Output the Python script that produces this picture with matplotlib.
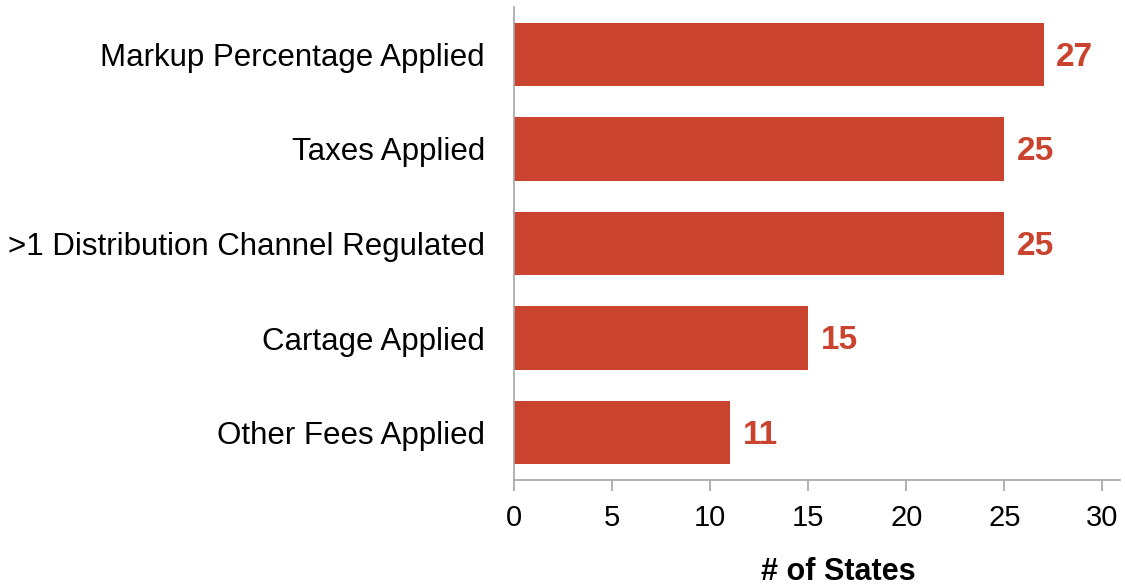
import matplotlib
matplotlib.use("Agg")
import matplotlib.pyplot as plt

categories = [
    "Markup Percentage Applied",
    "Taxes Applied",
    ">1 Distribution Channel Regulated",
    "Cartage Applied",
    "Other Fees Applied",
]
values = [27, 25, 25, 15, 11]
x_ticks = [0, 5, 10, 15, 20, 25, 30]

BAR = "#C9432F"
AXIS = "#A6A6A6"

plt.rcParams["font.family"] = ["Liberation Sans", "DejaVu Sans"]

fig = plt.figure(figsize=(11.25, 5.88), dpi=100)
ax = fig.add_axes([514 / 1125, 1 - 480 / 588, (1120 - 514) / 1125, (480 - 7) / 588])

ypos = list(range(len(categories)))
ax.barh(ypos, values, height=0.67, color=BAR, edgecolor="none")

for y, v in zip(ypos, values):
    ax.text(v + 0.65, y + 0.03, str(v), va="center", ha="left",
            fontsize=24, fontweight="bold", color=BAR)

ax.set_ylim(len(categories) - 0.5, -0.5)
ax.set_xlim(0, 30.9)
ax.set_yticks(ypos)
ax.set_yticklabels(categories, fontsize=22.5)
ax.set_xticks(x_ticks)
ax.set_xticklabels([str(t) for t in x_ticks], fontsize=21)

ax.tick_params(axis="y", length=0, pad=21)
ax.tick_params(axis="x", length=8, width=1.2, color=AXIS, direction="out", pad=9)

for side in ("top", "right"):
    ax.spines[side].set_visible(False)
for side in ("left", "bottom"):
    ax.spines[side].set_color(AXIS)
    ax.spines[side].set_linewidth(1.2)

ax.set_xlabel("# of States", fontsize=22, fontweight="bold")
ax.xaxis.label.set_va("center")
ax.xaxis.set_label_coords((838 - 514) / (1120 - 514), (480 - 572) / 473)

fig.savefig("out.png", dpi=100)
